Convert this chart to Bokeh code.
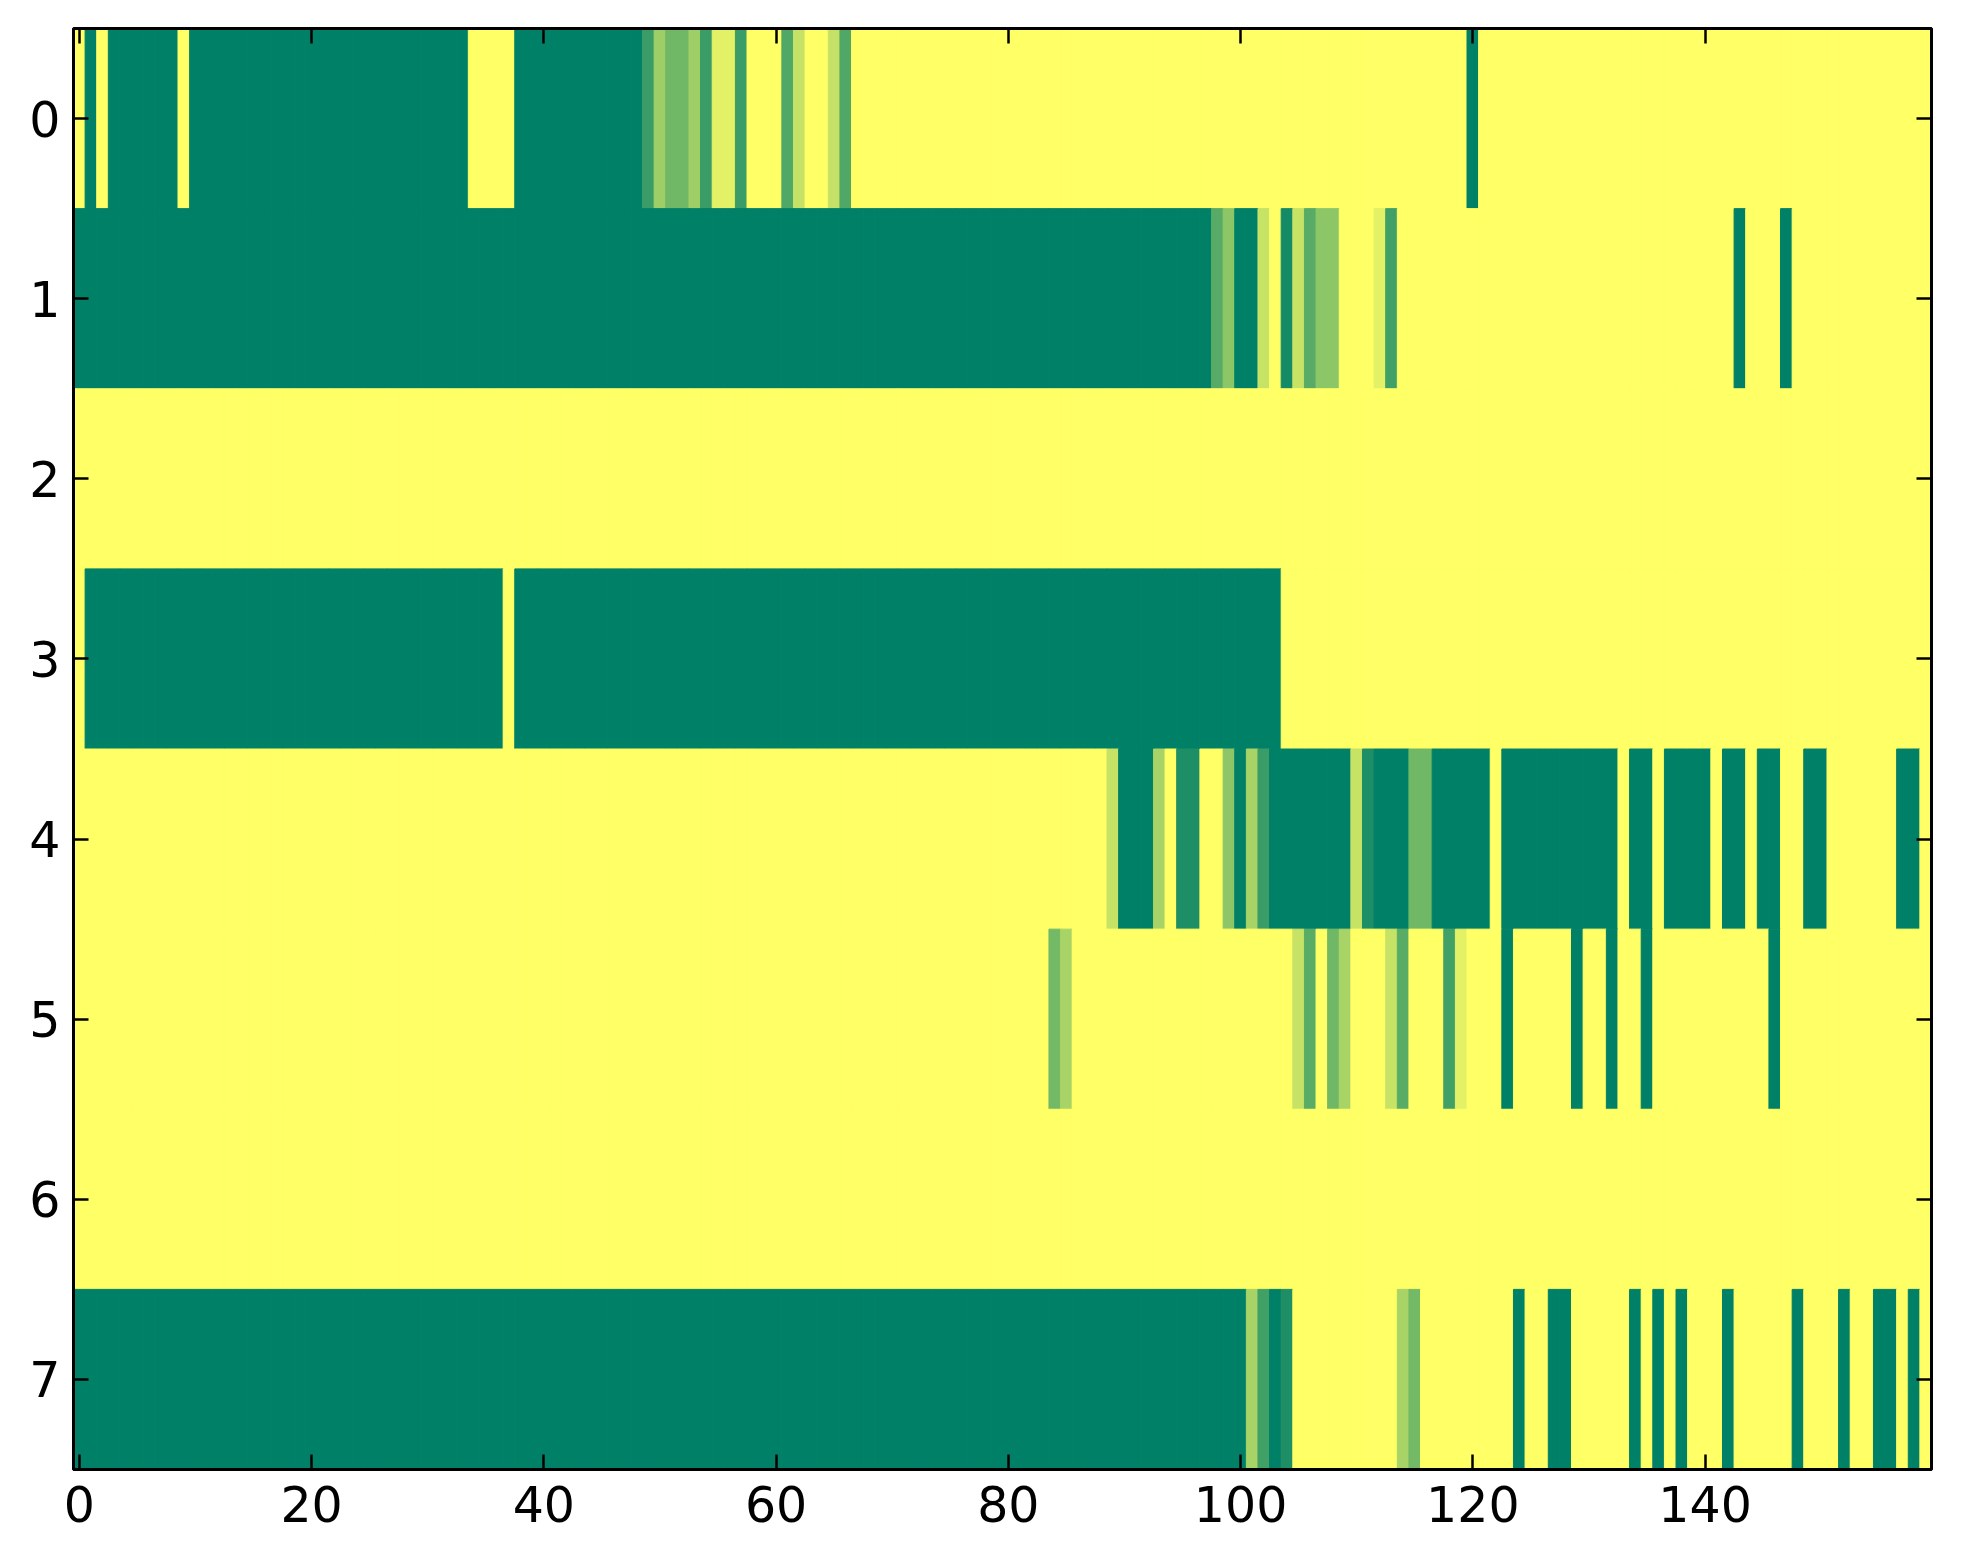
from bokeh.plotting import figure
from bokeh.models import Range1d, FixedTicker, LinearAxis, LinearColorMapper, ColumnDataSource
from bokeh.transform import transform
from bokeh.embed import file_html
from bokeh.resources import INLINE

# ---- data: 8 rows x 160 columns (values 0..1, summer colormap) ----
row0 = [1, 0, 1, 0, 0, 0, 0, 0, 0, 1, 0, 0, 0, 0, 0, 0, 0, 0, 0, 0,
        0, 0, 0, 0, 0, 0, 0, 0, 0, 0, 0, 0, 0, 0, 1, 1, 1, 1, 0, 0,
        0, 0, 0, 0, 0, 0, 0, 0, 0, 0.23, 0.62, 0.44, 0.44, 0.62, 0.23, 0.89, 0.89, 0.23, 1, 1,
        1, 0.32, 0.77, 1, 1, 0.77, 0.32, 1, 1, 1, 1, 1, 1, 1, 1, 1, 1, 1, 1, 1,
        1, 1, 1, 1, 1, 1, 1, 1, 1, 1, 1, 1, 1, 1, 1, 1, 1, 1, 1, 1,
        1, 1, 1, 1, 1, 1, 1, 1, 1, 1, 1, 1, 1, 1, 1, 1, 1, 1, 1, 1,
        0, 1, 1, 1, 1, 1, 1, 1, 1, 1, 1, 1, 1, 1, 1, 1, 1, 1, 1, 1,
        1, 1, 1, 1, 1, 1, 1, 1, 1, 1, 1, 1, 1, 1, 1, 1, 1, 1, 1, 1]
row1 = [0, 0, 0, 0, 0, 0, 0, 0, 0, 0, 0, 0, 0, 0, 0, 0, 0, 0, 0, 0,
        0, 0, 0, 0, 0, 0, 0, 0, 0, 0, 0, 0, 0, 0, 0, 0, 0, 0, 0, 0,
        0, 0, 0, 0, 0, 0, 0, 0, 0, 0, 0, 0, 0, 0, 0, 0, 0, 0, 0, 0,
        0, 0, 0, 0, 0, 0, 0, 0, 0, 0, 0, 0, 0, 0, 0, 0, 0, 0, 0, 0,
        0, 0, 0, 0, 0, 0, 0, 0, 0, 0, 0, 0, 0, 0, 0, 0, 0, 0, 0.34, 0.55,
        0, 0, 0.78, 1, 0.08, 0.78, 0.34, 0.55, 0.55, 1, 1, 1, 0.89, 0.25, 1, 1, 1, 1, 1, 1,
        1, 1, 1, 1, 1, 1, 1, 1, 1, 1, 1, 1, 1, 1, 1, 1, 1, 1, 1, 1,
        1, 1, 1, 0, 1, 1, 1, 0, 1, 1, 1, 1, 1, 1, 1, 1, 1, 1, 1, 1]
row2 = [1, 1, 1, 1, 1, 1, 1, 1, 1, 1, 1, 1, 1, 1, 1, 1, 1, 1, 1, 1,
        1, 1, 1, 1, 1, 1, 1, 1, 1, 1, 1, 1, 1, 1, 1, 1, 1, 1, 1, 1,
        1, 1, 1, 1, 1, 1, 1, 1, 1, 1, 1, 1, 1, 1, 1, 1, 1, 1, 1, 1,
        1, 1, 1, 1, 1, 1, 1, 1, 1, 1, 1, 1, 1, 1, 1, 1, 1, 1, 1, 1,
        1, 1, 1, 1, 1, 1, 1, 1, 1, 1, 1, 1, 1, 1, 1, 1, 1, 1, 1, 1,
        1, 1, 1, 1, 1, 1, 1, 1, 1, 1, 1, 1, 1, 1, 1, 1, 1, 1, 1, 1,
        1, 1, 1, 1, 1, 1, 1, 1, 1, 1, 1, 1, 1, 1, 1, 1, 1, 1, 1, 1,
        1, 1, 1, 1, 1, 1, 1, 1, 1, 1, 1, 1, 1, 1, 1, 1, 1, 1, 1, 1]
row3 = [1, 0, 0, 0, 0, 0, 0, 0, 0, 0, 0, 0, 0, 0, 0, 0, 0, 0, 0, 0,
        0, 0, 0, 0, 0, 0, 0, 0, 0, 0, 0, 0, 0, 0, 0, 0, 0, 1, 0, 0,
        0, 0, 0, 0, 0, 0, 0, 0, 0, 0, 0, 0, 0, 0, 0, 0, 0, 0, 0, 0,
        0, 0, 0, 0, 0, 0, 0, 0, 0, 0, 0, 0, 0, 0, 0, 0, 0, 0, 0, 0,
        0, 0, 0, 0, 0, 0, 0, 0, 0, 0, 0, 0, 0, 0, 0, 0, 0, 0, 0, 0,
        0, 0, 0, 0, 1, 1, 1, 1, 1, 1, 1, 1, 1, 1, 1, 1, 1, 1, 1, 1,
        1, 1, 1, 1, 1, 1, 1, 1, 1, 1, 1, 1, 1, 1, 1, 1, 1, 1, 1, 1,
        1, 1, 1, 1, 1, 1, 1, 1, 1, 1, 1, 1, 1, 1, 1, 1, 1, 1, 1, 1]
row4 = [1, 1, 1, 1, 1, 1, 1, 1, 1, 1, 1, 1, 1, 1, 1, 1, 1, 1, 1, 1,
        1, 1, 1, 1, 1, 1, 1, 1, 1, 1, 1, 1, 1, 1, 1, 1, 1, 1, 1, 1,
        1, 1, 1, 1, 1, 1, 1, 1, 1, 1, 1, 1, 1, 1, 1, 1, 1, 1, 1, 1,
        1, 1, 1, 1, 1, 1, 1, 1, 1, 1, 1, 1, 1, 1, 1, 1, 1, 1, 1, 1,
        1, 1, 1, 1, 1, 1, 1, 1, 1, 0.78, 0, 0, 0, 0.66, 1, 0.12, 0.12, 1, 1, 0.55,
        0, 0.66, 0.23, 0, 0, 0, 0, 0, 0, 0, 0.78, 0.12, 0, 0, 0, 0.44, 0.44, 0, 0, 0,
        0, 0, 1, 0, 0, 0, 0, 0, 0, 0, 0, 0, 0, 1, 0, 0, 1, 0, 0, 0,
        0, 1, 0, 0, 1, 0, 0, 1, 1, 0, 0, 1, 1, 1, 1, 1, 1, 0, 0, 1]
row5 = [1, 1, 1, 1, 1, 1, 1, 1, 1, 1, 1, 1, 1, 1, 1, 1, 1, 1, 1, 1,
        1, 1, 1, 1, 1, 1, 1, 1, 1, 1, 1, 1, 1, 1, 1, 1, 1, 1, 1, 1,
        1, 1, 1, 1, 1, 1, 1, 1, 1, 1, 1, 1, 1, 1, 1, 1, 1, 1, 1, 1,
        1, 1, 1, 1, 1, 1, 1, 1, 1, 1, 1, 1, 1, 1, 1, 1, 1, 1, 1, 1,
        1, 1, 1, 1, 0.45, 0.66, 1, 1, 1, 1, 1, 1, 1, 1, 1, 1, 1, 1, 1, 1,
        1, 1, 1, 1, 1, 0.78, 0.35, 1, 0.44, 0.66, 1, 1, 1, 0.78, 0.35, 1, 1, 1, 0.25, 0.89,
        1, 1, 1, 0, 1, 1, 1, 1, 1, 0, 1, 1, 0, 1, 1, 0, 1, 1, 1, 1,
        1, 1, 1, 1, 1, 1, 0, 1, 1, 1, 1, 1, 1, 1, 1, 1, 1, 1, 1, 1]
row6 = [1, 1, 1, 1, 1, 1, 1, 1, 1, 1, 1, 1, 1, 1, 1, 1, 1, 1, 1, 1,
        1, 1, 1, 1, 1, 1, 1, 1, 1, 1, 1, 1, 1, 1, 1, 1, 1, 1, 1, 1,
        1, 1, 1, 1, 1, 1, 1, 1, 1, 1, 1, 1, 1, 1, 1, 1, 1, 1, 1, 1,
        1, 1, 1, 1, 1, 1, 1, 1, 1, 1, 1, 1, 1, 1, 1, 1, 1, 1, 1, 1,
        1, 1, 1, 1, 1, 1, 1, 1, 1, 1, 1, 1, 1, 1, 1, 1, 1, 1, 1, 1,
        1, 1, 1, 1, 1, 1, 1, 1, 1, 1, 1, 1, 1, 1, 1, 1, 1, 1, 1, 1,
        1, 1, 1, 1, 1, 1, 1, 1, 1, 1, 1, 1, 1, 1, 1, 1, 1, 1, 1, 1,
        1, 1, 1, 1, 1, 1, 1, 1, 1, 1, 1, 1, 1, 1, 1, 1, 1, 1, 1, 1]
row7 = [0, 0, 0, 0, 0, 0, 0, 0, 0, 0, 0, 0, 0, 0, 0, 0, 0, 0, 0, 0,
        0, 0, 0, 0, 0, 0, 0, 0, 0, 0, 0, 0, 0, 0, 0, 0, 0, 0, 0, 0,
        0, 0, 0, 0, 0, 0, 0, 0, 0, 0, 0, 0, 0, 0, 0, 0, 0, 0, 0, 0,
        0, 0, 0, 0, 0, 0, 0, 0, 0, 0, 0, 0, 0, 0, 0, 0, 0, 0, 0, 0,
        0, 0, 0, 0, 0, 0, 0, 0, 0, 0, 0, 0, 0, 0, 0, 0, 0, 0, 0, 0,
        0, 0.66, 0.25, 0, 0.12, 1, 1, 1, 1, 1, 1, 1, 1, 1, 0.66, 0.45, 1, 1, 1, 1,
        1, 1, 1, 1, 0, 1, 1, 0, 0, 1, 1, 1, 1, 1, 0, 1, 0, 1, 0, 1,
        1, 1, 0, 1, 1, 1, 1, 1, 0, 1, 1, 1, 0, 1, 1, 0, 0, 1, 0, 1]

rows = [row0, row1, row2, row3, row4, row5, row6, row7]
x_ticks = [0, 20, 40, 60, 80, 100, 120, 140]
y_ticks = [0, 1, 2, 3, 4, 5, 6, 7]

# ---- build cell table ----
xs, ys, vs = [], [], []
for r, vals in enumerate(rows):
    for c, v in enumerate(vals):
        xs.append(c)
        ys.append(r)
        vs.append(v)
src = ColumnDataSource(dict(x=xs, y=ys, v=vs))

# matplotlib "summer" colormap
palette = []
for i in range(256):
    t = i / 255.0
    rr = int(round(255 * t))
    gg = int(round(255 * (0.5 + 0.5 * t)))
    bb = int(round(255 * 0.4))
    palette.append("#%02x%02x%02x" % (rr, gg, bb))
mapper = LinearColorMapper(palette=palette, low=0, high=1)

ncols = len(row0)
nrows = len(rows)
p = figure(frame_width=1858, frame_height=1441,
           x_range=Range1d(-0.5, ncols - 0.5), y_range=Range1d(nrows - 0.5, -0.5),
           output_backend="svg", toolbar_location=None,
           min_border_left=73, min_border_top=28, min_border_right=16, min_border_bottom=74,
           background_fill_color="white", border_fill_color="white")

p.rect(x="x", y="y", width=1, height=1, source=src,
       fill_color=transform("v", mapper), line_color=transform("v", mapper), line_width=1)

p.xgrid.visible = False
p.ygrid.visible = False
p.outline_line_color = "black"
p.outline_line_width = 3


def style(ax, ticks, show_labels):
    ax.ticker = FixedTicker(ticks=ticks)
    ax.axis_line_color = "black"
    ax.axis_line_width = 3
    ax.major_tick_in = 15
    ax.major_tick_out = 0
    ax.major_tick_line_width = 2.5
    ax.major_tick_line_color = "black"
    ax.minor_tick_line_color = None
    ax.major_label_text_font = "DejaVu Sans"
    if show_labels:
        ax.major_label_text_font_size = "49px"
        ax.major_label_text_color = "black"
    else:
        ax.major_label_text_font_size = "1px"
        ax.major_label_text_color = None
        ax.major_label_standoff = 0


style(p.xaxis[0], x_ticks, True)
style(p.yaxis[0], y_ticks, True)
p.xaxis[0].major_label_standoff = 16
p.yaxis[0].major_label_standoff = 13

top = LinearAxis()
style(top, x_ticks, False)
p.add_layout(top, "above")
right = LinearAxis()
style(right, y_ticks, False)
p.add_layout(right, "right")

open("out.html", "w").write(file_html(p, INLINE))
